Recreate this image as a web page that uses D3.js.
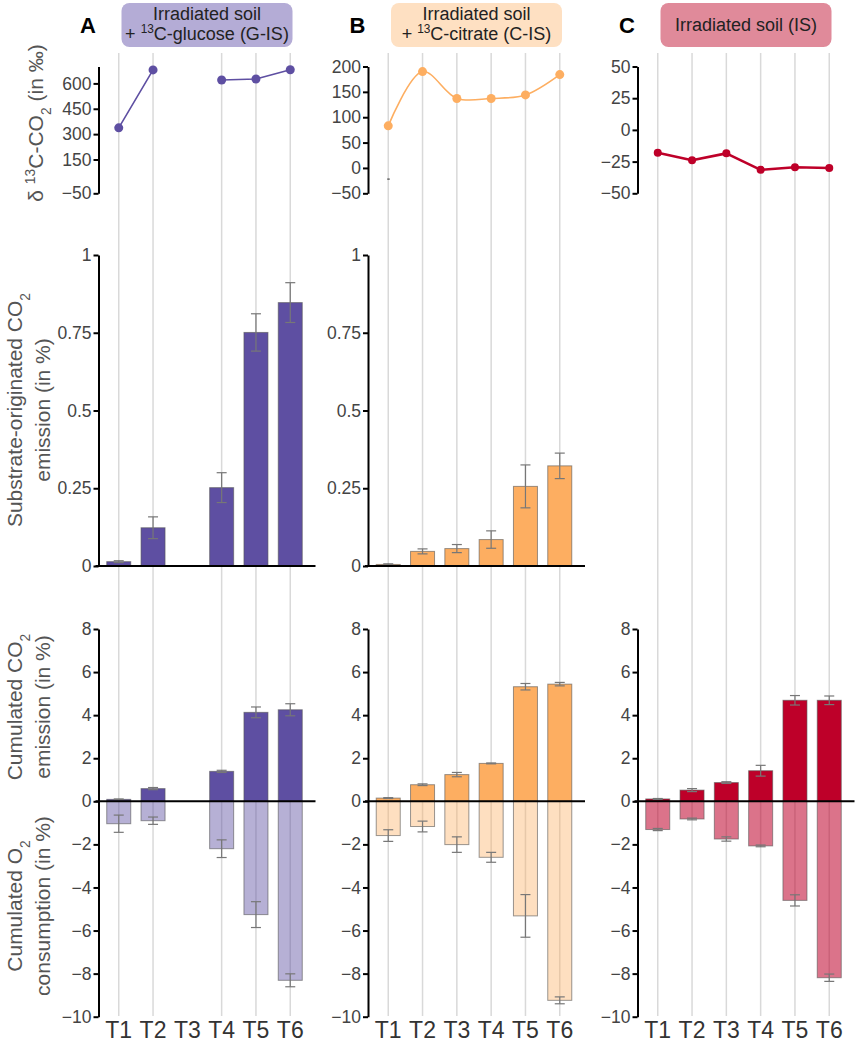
<!DOCTYPE html>
<html>
<head>
<meta charset="utf-8">
<script src="https://cdn.jsdelivr.net/npm/d3@7"></script>
<style>
body { margin: 0; background: #fff; }
text { font-family: "Liberation Sans", Arial, sans-serif; }
</style>
</head>
<body>
<svg id="mainsvg" width="857" height="1044"></svg>
<script>
const times = ['T1', 'T2', 'T3', 'T4', 'T5', 'T6'];

// delta 13C-CO2 (in permil), null = not measured
const deltaGlucose = [337, 680, null, 620, 626, 681];
const deltaCitrate = [83, 190, 137, 137, 144, 184];
const deltaSoil = [-18, -24, -18.5, -31.5, -29.5, -30];
const citrateStray = [-22, null, null, null, null, null];

// substrate-originated CO2 emission (in %)
const subGlucose = [0.014, 0.123, null, 0.252, 0.751, 0.847];
const subGlucoseErr = [0.003, 0.035, null, 0.048, 0.06, 0.064];
const subCitrate = [0.005, 0.047, 0.056, 0.085, 0.256, 0.322];
const subCitrateErr = [0.002, 0.008, 0.013, 0.028, 0.069, 0.041];

// cumulated CO2 emission (in %)
const co2Glucose = [0.09, 0.59, null, 1.39, 4.13, 4.25];
const co2GlucoseErr = [0.02, 0.05, null, 0.05, 0.25, 0.28];
const co2Citrate = [0.15, 0.77, 1.24, 1.76, 5.32, 5.44];
const co2CitrateErr = [0.02, 0.04, 0.1, 0.02, 0.15, 0.08];
const co2Soil = [0.11, 0.52, 0.87, 1.42, 4.69, 4.69];
const co2SoilErr = [0.02, 0.07, 0.04, 0.25, 0.22, 0.2];

// cumulated O2 consumption (in %)
const o2Glucose = [-1.04, -0.9, null, -2.2, -5.26, -8.31];
const o2GlucoseErr = [0.4, 0.17, null, 0.41, 0.6, 0.3];
const o2Citrate = [-1.59, -1.17, -2.01, -2.6, -5.32, -9.24];
const o2CitrateErr = [0.27, 0.25, 0.36, 0.23, 0.99, 0.16];
const o2Soil = [-1.31, -0.82, -1.75, -2.07, -4.6, -8.19];
const o2SoilErr = [0.05, 0.04, 0.1, 0.04, 0.26, 0.17];

const deltaTicksA = [600, 450, 300, 150, -50];
const deltaTicksB = [200, 150, 100, 50, 0, -50];
const deltaTicksC = [50, 25, 0, -25, -50];
const subTicks = [0, 0.25, 0.5, 0.75, 1];
const cumTicks = [8, 6, 4, 2, 0, -2, -4, -6, -8, -10];

const panels = [
  { letter: 'A', axisX: 98.5, dark: '#5e4fa2', lightOp: 0.45, box: '#b4acd6',
    title: [[{ t: 'Irradiated soil' }], [{ t: '+ ' }, { t: '13', sup: true }, { t: 'C-glucose (G-IS)' }]],
    delta: deltaGlucose, deltaDomain: [-50, 700], deltaTicks: deltaTicksA, curve: d3.curveLinear, lw: 1.6, r: 4.5,
    sub: subGlucose, subErr: subGlucoseErr, co2: co2Glucose, co2Err: co2GlucoseErr, o2: o2Glucose, o2Err: o2GlucoseErr },
  { letter: 'B', axisX: 368, dark: '#fdae61', lightOp: 0.4, box: '#fee0c2',
    title: [[{ t: 'Irradiated soil' }], [{ t: '+ ' }, { t: '13', sup: true }, { t: 'C-citrate (C-IS)' }]],
    delta: deltaCitrate, deltaDomain: [-50, 200], deltaTicks: deltaTicksB, curve: d3.curveCatmullRom, lw: 1.6, r: 4.5,
    stray: citrateStray,
    sub: subCitrate, subErr: subCitrateErr, co2: co2Citrate, co2Err: co2CitrateErr, o2: o2Citrate, o2Err: o2CitrateErr },
  { letter: 'C', axisX: 637.5, dark: '#be0029', lightOp: 0.55, box: '#e08a9a',
    title: [[{ t: 'Irradiated soil (IS)' }]],
    delta: deltaSoil, deltaDomain: [-50, 50], deltaTicks: deltaTicksC, curve: d3.curveLinear, lw: 2.6, r: 4,
    sub: null, co2: co2Soil, co2Err: co2SoilErr, o2: o2Soil, o2Err: o2SoilErr }
];

const svg = d3.select('#mainsvg');
const gridTop = 53, gridBottom = 1016;
const topRange = [193.3, 66.5];
const midRange = [566, 255];
const botRange = [1016.7, 629];

function rich(sel, segs, size) {
  segs.forEach(s => {
    const ts = sel.append('tspan').text(s.t);
    if (s.sup) ts.attr('baseline-shift', 'super').attr('font-size', size * 0.66);
    if (s.sub) ts.attr('baseline-shift', 'sub').attr('font-size', size * 0.66);
  });
}

function styleAxis(g) {
  g.select('.domain').attr('stroke', '#000').attr('stroke-width', 2);
  g.selectAll('.tick line').attr('stroke', '#000').attr('stroke-width', 2);
  g.selectAll('.tick text').attr('font-size', 17.5).attr('fill', '#444')
    .attr('font-family', '"Liberation Sans", Arial, sans-serif');
}

function yAxis(g, x0, y, ticks, fmt) {
  g.append('g').attr('transform', `translate(${x0},0)`)
    .call(d3.axisLeft(y).tickValues(ticks).tickSize(5).tickSizeOuter(0).tickPadding(2).tickFormat(fmt))
    .call(styleAxis);
}

function rows(vals, errs) {
  return times.map((t, i) => ({ t, v: vals[i], e: errs ? errs[i] : null })).filter(d => d.v != null);
}

function bars(g, x, y, data, fill, opacity) {
  g.append('g').selectAll('rect').data(data).join('rect')
    .attr('x', d => x(d.t)).attr('width', x.bandwidth())
    .attr('y', d => y(Math.max(0, d.v)))
    .attr('height', d => Math.abs(y(d.v) - y(0)))
    .attr('fill', fill).attr('fill-opacity', opacity)
    .attr('stroke', '#555').attr('stroke-opacity', 0.6).attr('stroke-width', 1);
}

function errorBars(g, x, y, data) {
  const cx = d => x(d.t) + x.bandwidth() / 2;
  const eb = g.append('g').attr('stroke', '#777').attr('stroke-width', 1.2)
    .selectAll('g').data(data).join('g');
  eb.append('line').attr('x1', cx).attr('x2', cx)
    .attr('y1', d => y(d.v + d.e)).attr('y2', d => y(d.v - d.e));
  eb.append('line').attr('x1', d => cx(d) - 5).attr('x2', d => cx(d) + 5)
    .attr('y1', d => y(d.v + d.e)).attr('y2', d => y(d.v + d.e));
  eb.append('line').attr('x1', d => cx(d) - 5).attr('x2', d => cx(d) + 5)
    .attr('y1', d => y(d.v - d.e)).attr('y2', d => y(d.v - d.e));
}

panels.forEach(p => {
  const g = svg.append('g');
  const x = d3.scaleBand().domain(times).range([p.axisX, p.axisX + 212])
    .paddingInner(0.3).paddingOuter(0.24);
  const cx = t => x(t) + x.bandwidth() / 2;

  // header
  g.append('text').attr('x', p.axisX - 10.5).attr('y', 33).attr('text-anchor', 'middle')
    .attr('font-size', 22).attr('font-weight', 'bold').attr('fill', '#000').text(p.letter);
  g.append('rect').attr('x', p.axisX + 23).attr('y', 3).attr('width', 171).attr('height', 44)
    .attr('rx', 8).attr('fill', p.box);
  const lineY = p.title.length === 1 ? [31] : [20, 40];
  p.title.forEach((segs, i) => {
    const t = g.append('text').attr('x', p.axisX + 108.5).attr('y', lineY[i])
      .attr('text-anchor', 'middle').attr('font-size', 18).attr('fill', '#222');
    rich(t, segs, 18);
  });

  // gridlines, only where the treatment has data
  const present = times.filter((t, i) => p.co2[i] != null);
  g.append('g').selectAll('line').data(present).join('line')
    .attr('x1', cx).attr('x2', cx).attr('y1', gridTop).attr('y2', gridBottom)
    .attr('stroke', '#d9d9d9').attr('stroke-width', 1.5);

  // delta 13C line chart
  const yTop = d3.scaleLinear().domain(p.deltaDomain).range(topRange);
  const line = d3.line().defined(d => d.v != null).x(d => cx(d.t)).y(d => yTop(d.v)).curve(p.curve);
  const pts = times.map((t, i) => ({ t, v: p.delta[i] }));
  g.append('path').datum(pts).attr('d', line).attr('fill', 'none')
    .attr('stroke', p.dark).attr('stroke-width', p.lw).attr('stroke-linejoin', 'round');
  g.append('g').selectAll('circle').data(pts.filter(d => d.v != null)).join('circle')
    .attr('cx', d => cx(d.t)).attr('cy', d => yTop(d.v)).attr('r', p.r).attr('fill', p.dark);
  if (p.stray) {
    g.append('g').selectAll('line').data(rows(p.stray)).join('line')
      .attr('x1', d => cx(d.t) - 1).attr('x2', d => cx(d.t) + 1.5)
      .attr('y1', d => yTop(d.v)).attr('y2', d => yTop(d.v))
      .attr('stroke', '#444').attr('stroke-width', 1.2);
  }
  yAxis(g, p.axisX, yTop, p.deltaTicks, d3.format('~g'));

  // substrate-originated CO2
  if (p.sub) {
    const yMid = d3.scaleLinear().domain([0, 1]).range(midRange);
    const data = rows(p.sub, p.subErr);
    bars(g, x, yMid, data, p.dark, 1);
    errorBars(g, x, yMid, data);
    g.append('line').attr('x1', p.axisX - 3).attr('x2', p.axisX + 217)
      .attr('y1', yMid(0)).attr('y2', yMid(0)).attr('stroke', '#000').attr('stroke-width', 2);
    yAxis(g, p.axisX, yMid, subTicks, d3.format('~g'));
  }

  // cumulated CO2 / O2
  const yBot = d3.scaleLinear().domain([-10, 8]).range(botRange);
  const o2 = rows(p.o2, p.o2Err), co2 = rows(p.co2, p.co2Err);
  bars(g, x, yBot, o2, p.dark, p.lightOp);
  bars(g, x, yBot, co2, p.dark, 1);
  errorBars(g, x, yBot, o2);
  errorBars(g, x, yBot, co2);
  g.append('line').attr('x1', p.axisX - 3).attr('x2', p.axisX + 217)
    .attr('y1', yBot(0)).attr('y2', yBot(0)).attr('stroke', '#000').attr('stroke-width', 2);
  yAxis(g, p.axisX, yBot, cumTicks, d3.format('~g'));

  // x labels
  g.append('g').selectAll('text').data(times).join('text')
    .attr('x', cx).attr('y', 1038).attr('text-anchor', 'middle')
    .attr('font-size', 23).attr('fill', '#333').text(d => d);
});

// y axis titles
const titles = [
  { y: 123, lines: [[{ t: 'δ ' }, { t: '13', sup: true }, { t: 'C-CO' }, { t: '2', sub: true }, { t: ' (in ‰)' }]], xs: [43] },
  { y: 410, lines: [[{ t: 'Substrate-originated CO' }, { t: '2', sub: true }], [{ t: 'emission (in %)' }]], xs: [22, 50] },
  { y: 707, lines: [[{ t: 'Cumulated CO' }, { t: '2', sub: true }], [{ t: 'emission (in %)' }]], xs: [22, 50] },
  { y: 906, lines: [[{ t: 'Cumulated O' }, { t: '2', sub: true }], [{ t: 'consumption (in %)' }]], xs: [22, 50] }
];
titles.forEach(tt => {
  tt.lines.forEach((segs, i) => {
    const t = svg.append('text').attr('transform', `translate(${tt.xs[i]},${tt.y}) rotate(-90)`)
      .attr('text-anchor', 'middle').attr('font-size', 21).attr('fill', '#555');
    rich(t, segs, 21);
  });
});
</script>
</body>
</html>
